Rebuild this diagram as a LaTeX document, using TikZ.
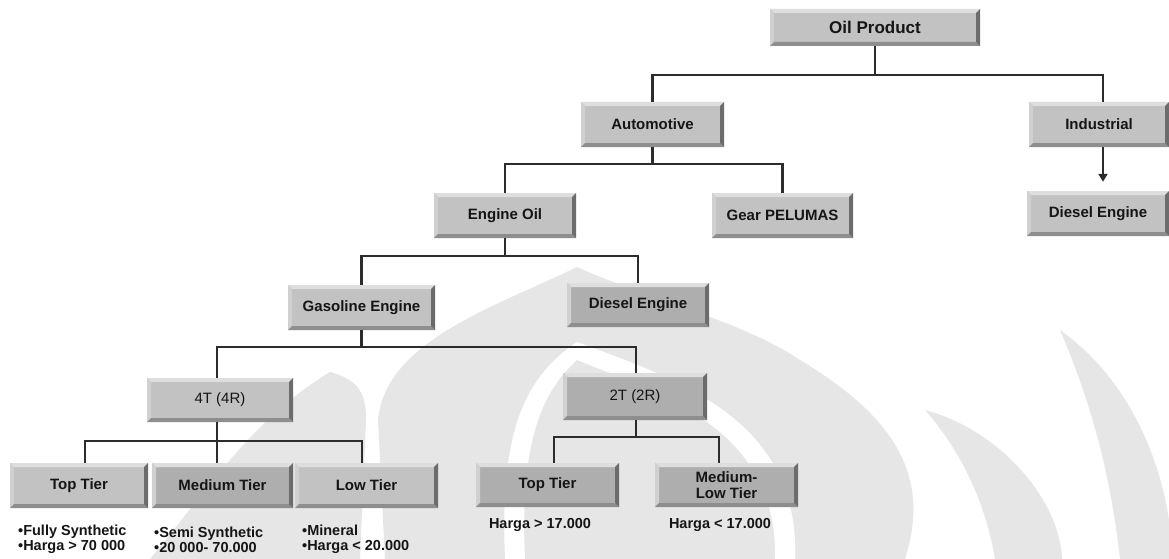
\documentclass[tikz,border=0pt]{standalone}
\usepackage{fontspec}
\setmainfont{Liberation Sans}
\usetikzlibrary{arrows.meta}

\definecolor{boxfill}{HTML}{C2C2C2}
\definecolor{boxdark}{HTML}{AEAEAE}
\definecolor{bevlight}{HTML}{DEDEDE}
\definecolor{bevleft}{HTML}{D0D0D0}
\definecolor{bevright}{HTML}{6C6C6C}
\definecolor{bevbottom}{HTML}{8E8E8E}
\definecolor{linec}{HTML}{2C2C2C}
\definecolor{textc}{HTML}{151515}
\definecolor{emblemc}{HTML}{E6E6E6}

\tikzset{
  bevelbox/.style={rectangle, inner sep=0pt, fill=#1, text=textc, align=center,
    font=\bfseries\fontsize{15}{16}\selectfont,
    path picture={
      \def\bvw{4pt}
      % top edge
      \fill[bevlight] (path picture bounding box.north west) -- (path picture bounding box.north east)
        -- ([shift={(-\bvw,-\bvw)}]path picture bounding box.north east)
        -- ([shift={(\bvw,-\bvw)}]path picture bounding box.north west) -- cycle;
      % left edge
      \fill[bevleft] (path picture bounding box.north west) -- ([shift={(\bvw,-\bvw)}]path picture bounding box.north west)
        -- ([shift={(\bvw,\bvw)}]path picture bounding box.south west)
        -- (path picture bounding box.south west) -- cycle;
      % bottom edge
      \fill[bevbottom] (path picture bounding box.south west) -- (path picture bounding box.south east)
        -- ([shift={(-\bvw,\bvw)}]path picture bounding box.south east)
        -- ([shift={(\bvw,\bvw)}]path picture bounding box.south west) -- cycle;
      % right edge
      \fill[bevright] (path picture bounding box.north east) -- (path picture bounding box.south east)
        -- ([shift={(-\bvw,\bvw)}]path picture bounding box.south east)
        -- ([shift={(-\bvw,-\bvw)}]path picture bounding box.north east) -- cycle;
    }},
  bevelbox/.default=boxfill,
  plainlabel/.style={font=\fontsize{15}{16}\selectfont},
  conn/.style={draw=linec, line width=2.2pt},
  note/.style={text=textc, align=left, inner sep=0pt,
    font=\bfseries\fontsize{14.5}{15}\selectfont},
  emblem/.style={fill=emblemc},
}

\begin{document}
\begin{tikzpicture}[x=1pt, y=-1pt]
  \useasboundingbox[fill=white] (0,0) rectangle (1169,559);

  % faint emblem in the background
  \begin{scope}
    \clip (0,0) rectangle (1169,559);
    % central flame
    \fill[emblem] (577,267) .. controls (650,300) and (740,320) .. (800,360)
          .. controls (900,420) and (930,480) .. (905,559)
          -- (385,559) -- (378,420)
          .. controls (385,340) and (500,305) .. (577,267) -- cycle;
    % white almond ring inside the flame
    \fill[white, even odd rule]
          (577,342) .. controls (680,380) and (800,420) .. (795,559)
          -- (505,559) .. controls (500,440) and (520,380) .. (577,342) -- cycle
          (577,360) .. controls (665,395) and (778,430) .. (775,559)
          -- (525,559) .. controls (520,450) and (538,395) .. (577,360) -- cycle;
    % left crescent
    \fill[emblem] (330,372) .. controls (360,380) and (366,395) .. (366,420)
          -- (360,559) -- (150,559)
          .. controls (200,500) and (250,420) .. (330,372) -- cycle;
    % right crescents
    \fill[emblem] (925,410) .. controls (1000,430) and (1060,500) .. (1062,559)
          -- (995,559) .. controls (985,500) and (960,450) .. (925,410) -- cycle;
    \fill[emblem] (1060,330) .. controls (1130,380) and (1160,460) .. (1169,520)
          -- (1169,559) -- (1120,559)
          .. controls (1110,470) and (1090,400) .. (1060,330) -- cycle;
  \end{scope}

  % boxes
  \node[bevelbox, minimum width=210pt, minimum height=37pt,
        font=\bfseries\fontsize{17}{18}\selectfont] (oil) at (875,27.5) {Oil Product};
  \node[bevelbox, minimum width=143pt, minimum height=45pt] (auto) at (652.5,124.5) {Automotive};
  \node[bevelbox, minimum width=140pt, minimum height=45pt] (ind) at (1099,124.5) {Industrial};
  \node[bevelbox, minimum width=142pt, minimum height=45pt] (dieselR) at (1098,213.5) {Diesel Engine};
  \node[bevelbox, minimum width=141pt, minimum height=45pt] (gear) at (782.5,215.5) {Gear PELUMAS};
  \node[bevelbox, minimum width=142pt, minimum height=45pt] (eng) at (505,215.5) {Engine Oil};
  \node[bevelbox, minimum width=147pt, minimum height=45pt] (gas) at (361.5,307.5) {Gasoline Engine};
  \node[bevelbox=boxdark, minimum width=142pt, minimum height=44pt] (dieselM) at (638,305) {Diesel Engine};
  \node[bevelbox, minimum width=146pt, minimum height=44pt, plainlabel] (t4) at (220,400) {4T (4R)};
  \node[bevelbox=boxdark, minimum width=144pt, minimum height=47pt, plainlabel] (t2) at (635,396.5) {2T (2R)};
  \node[bevelbox, minimum width=138pt, minimum height=45pt] (top1) at (79,485.5) {Top Tier};
  \node[bevelbox=boxdark, minimum width=141pt, minimum height=45pt] (med1) at (222.5,485.5) {Medium Tier};
  \node[bevelbox, minimum width=143pt, minimum height=45pt] (low1) at (366.5,485.5) {Low Tier};
  \node[bevelbox=boxdark, minimum width=143pt, minimum height=44pt] (top2) at (547.5,485) {Top Tier};
  \node[bevelbox=boxdark, minimum width=143pt, minimum height=44pt] (ml2) at (726.5,485) {Medium-\\Low Tier};

  % notes under the tiers
  \node[note, anchor=west] (n1) at (18,539.5) {•Fully Synthetic\\•Harga > 70 000};
  \node[note, anchor=west] (n2) at (154,539.5) {•Semi Synthetic\\•20 000- 70.000};
  \node[note, anchor=west] (n3) at (302,539.5) {•Mineral\\•Harga < 20.000};
  \node[note] (n4) at (540,525) {Harga > 17.000};
  \node[note] (n5) at (720,525) {Harga < 17.000};

  % connectors
  \draw[conn] (oil.south) -- ++(0,29);
  \draw[conn] (auto.north) -- ++(0,-27) -| ([xshift=4pt]ind.north);

  \draw[conn] (auto.south) -- ++(0,17);
  \draw[conn] (eng.north) -- ++(0,-29) -| (gear.north);

  \draw[conn, -{Triangle[width=9pt,length=8pt]}, shorten >=9pt]
    ([xshift=4pt]ind.south) -- ([xshift=5pt]dieselR.north);

  \draw[conn] (eng.south) -- ++(0,18);
  \draw[conn] (gas.north) -- ++(0,-29) -| (dieselM.north);

  \draw[conn] (gas.south) -- ++(0,17);
  \draw[conn] ([xshift=-3pt]t4.north) -- ++(0,-31) -| ([xshift=1pt]t2.north);

  \draw[conn] ([xshift=-3pt]t4.south) -- ([xshift=-3pt]t4.south |- med1.north);
  \draw[conn] ([xshift=6pt]top1.north) -- ++(0,-22) -| ([xshift=-4.5pt]low1.north);

  \draw[conn] ([xshift=1pt]t2.south) -- ++(0,17);
  \draw[conn] ([xshift=6.5pt]top2.north) -- ++(0,-26) -| ([xshift=-7.5pt]ml2.north);
\end{tikzpicture}
\end{document}
